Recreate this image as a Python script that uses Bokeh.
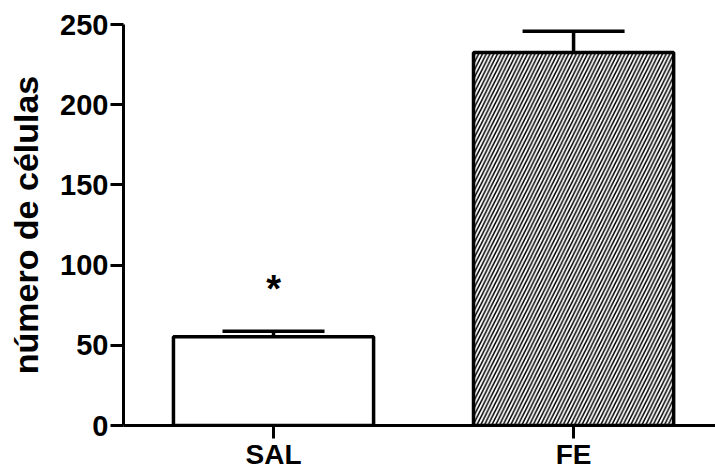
from bokeh.plotting import figure
from bokeh.models import Range1d, FixedTicker, ColumnDataSource
from bokeh.embed import file_html
from bokeh.resources import INLINE
from bokeh.core.properties import value

# Cell counts per group (mean and SEM)
categories = ["SAL", "FE"]
means = [55.3, 232.5]
sems = [3.5, 13.3]
y_ticks = [0, 50, 100, 150, 200, 250]
hatches = [" ", "/"]

FONT = "Liberation Sans"

xpos = [i + 0.5 for i in range(len(categories))]
tops = [m + s for m, s in zip(means, sems)]
bar_w = 0.667
cap_half = 0.17

src = ColumnDataSource(dict(
    x=xpos, top=means, up=tops, hatch=hatches,
    cap_l=[x - cap_half for x in xpos], cap_r=[x + cap_half for x in xpos],
))

p = figure(
    width=715, height=472,
    x_range=Range1d(0, 1.973), y_range=Range1d(0, 250),
    output_backend="svg", toolbar_location=None,
    min_border_left=123, min_border_right=0,
    min_border_top=24, min_border_bottom=45,
)
p.outline_line_color = None
p.xgrid.visible = False
p.ygrid.visible = False
p.background_fill_color = "white"
p.border_fill_color = "white"

# error bars (upper only) drawn behind the bars
p.segment(x0="x", y0="top", x1="x", y1="up", source=src,
          line_color="black", line_width=3.5)
p.segment(x0="cap_l", y0="up", x1="cap_r", y1="up", source=src,
          line_color="black", line_width=3.5)

p.vbar(x="x", top="top", bottom=0, width=bar_w, source=src,
       fill_color="white", line_color="black", line_width=3.5,
       hatch_pattern="hatch", hatch_color="black",
       hatch_scale=7.5, hatch_weight=1.5)

# significance marker above SAL
p.text(x=[xpos[0]], y=[85], text=["*"], text_align="center",
       text_baseline="alphabetic", text_font=value(FONT),
       text_font_style="bold", text_font_size="38px", text_color="black")

# y axis
ya = p.yaxis[0]
ya.ticker = FixedTicker(ticks=y_ticks)
ya.minor_tick_line_color = None
ya.major_tick_in = 0
ya.major_tick_out = 13
ya.major_tick_line_width = 3
ya.axis_line_width = 3
ya.major_label_standoff = 2
ya.major_label_text_font = FONT
ya.major_label_text_font_style = "bold"
ya.major_label_text_font_size = "29px"
ya.major_label_text_color = "black"
ya.axis_label = "número de células"
ya.axis_label_text_font = FONT
ya.axis_label_text_font_style = "bold"
ya.axis_label_text_font_size = "34px"
ya.axis_label_text_color = "black"
ya.axis_label_standoff = 12

# x axis
xa = p.xaxis[0]
xa.ticker = FixedTicker(ticks=xpos)
xa.major_label_overrides = {x: c for x, c in zip(xpos, categories)}
xa.minor_tick_line_color = None
xa.major_tick_in = 0
xa.major_tick_out = 13
xa.major_tick_line_width = 3
xa.axis_line_width = 3
xa.major_label_standoff = 0
xa.major_label_text_font = FONT
xa.major_label_text_font_style = "bold"
xa.major_label_text_font_size = "28px"
xa.major_label_text_color = "black"

open("out.html", "w").write(file_html(p, INLINE))
